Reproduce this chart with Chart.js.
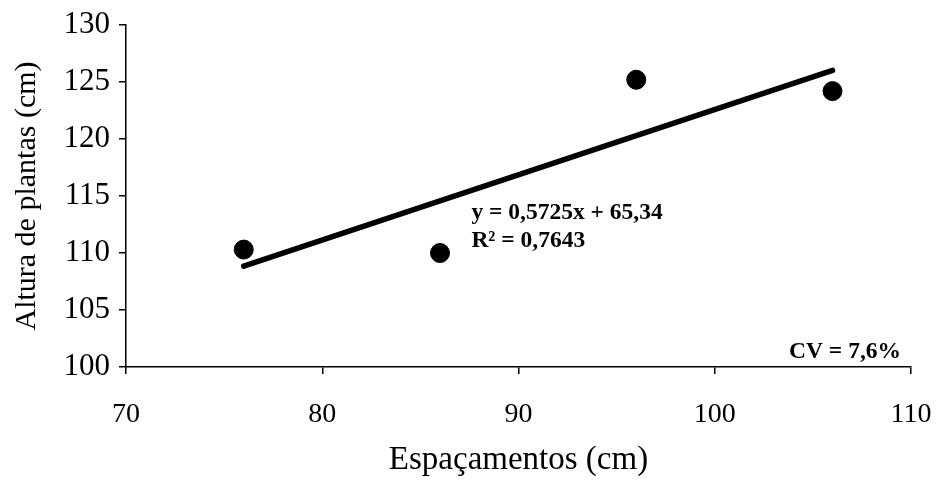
<!DOCTYPE html>
<html>
<head>
<meta charset="utf-8">
<script src="https://cdn.jsdelivr.net/npm/chart.js@4"></script>
<style>
  body { margin: 0; background: #fff; }
  #wrap { width: 944px; height: 496px; }
</style>
</head>
<body>
<div id="wrap"><canvas id="chart" width="944" height="496"></canvas></div>
<script>
// Spacing (cm) and plant height (cm)
const spacing = [76, 86, 96, 106];
const height = [110.3, 110.0, 125.2, 124.2];

// Fitted line from the equation shown on the chart
const slope = 0.5725;
const intercept = 65.34;
const fitX = [spacing[0], spacing[spacing.length - 1]];

const xTicks = [70, 80, 90, 100, 110];
const yTicks = [100, 105, 110, 115, 120, 125, 130];

const equationText = 'y = 0,5725x + 65,34';
const r2Text = 'R² = 0,7643';
const cvText = 'CV = 7,6%';

const serif = "'Liberation Serif', 'Times New Roman', serif";

// Text labels drawn over the plot
const labelsPlugin = {
    id: 'labels',
    afterDatasetsDraw(chart) {
        const ctx = chart.ctx;
        const xs = chart.scales.x;
        const ys = chart.scales.y;
        const area = chart.chartArea;
        ctx.save();
        ctx.fillStyle = '#000';
        ctx.font = 'bold 23.5px ' + serif;
        ctx.textBaseline = 'middle';
        ctx.textAlign = 'left';
        const ex = xs.getPixelForValue(87.6);
        const ey = ys.getPixelForValue(113.5);
        ctx.fillText(equationText, ex, ey);
        ctx.fillText(r2Text, ex, ey + 28);
        ctx.textAlign = 'right';
        ctx.fillText(cvText, area.right - 10, area.bottom - 15);
        ctx.restore();
    }
};

const ctx = document.getElementById('chart').getContext('2d');

new Chart(ctx, {
    type: 'scatter',
    data: {
        datasets: [
            {
                label: 'Ajuste',
                data: fitX.map(x => ({ x: x, y: slope * x + intercept })),
                showLine: true,
                borderColor: '#000',
                borderWidth: 5.5,
                borderCapStyle: 'round',
                pointRadius: 0,
                order: 2
            },
            {
                label: 'Altura',
                data: spacing.map((x, i) => ({ x: x, y: height[i] })),
                backgroundColor: '#000',
                borderColor: '#000',
                pointRadius: 9.5,
                pointHoverRadius: 9.5,
                order: 1
            }
        ]
    },
    options: {
        responsive: false,
        animation: false,
        layout: { padding: { top: 25, right: 33, left: 0, bottom: 0 } },
        plugins: {
            legend: { display: false },
            tooltip: { enabled: false }
        },
        scales: {
            x: {
                type: 'linear',
                min: 70,
                max: 110,
                afterBuildTicks: s => { s.ticks = xTicks.map(v => ({ value: v })); },
                afterFit: s => {
                    s.height = 129;
                    s.paddingLeft = 0;
                    s.paddingRight = 0;
                },
                grid: { drawOnChartArea: false, drawTicks: true, tickLength: 7, color: '#000', lineWidth: 1.5 },
                border: { color: '#000', width: 1.5 },
                ticks: {
                    color: '#000',
                    padding: 24,
                    maxRotation: 0,
                    font: { family: serif, size: 28 }
                },
                title: {
                    display: true,
                    text: 'Espaçamentos (cm)',
                    color: '#000',
                    font: { family: serif, size: 33 },
                    padding: { top: 0, bottom: 16 }
                }
            },
            y: {
                type: 'linear',
                min: 100,
                max: 130,
                afterBuildTicks: s => { s.ticks = yTicks.map(v => ({ value: v })); },
                afterFit: s => {
                    s.width = 126;
                    s.paddingTop = 0;
                    s.paddingBottom = 0;
                },
                grid: { drawOnChartArea: false, drawTicks: true, tickLength: 7, color: '#000', lineWidth: 1.5 },
                border: { color: '#000', width: 1.5 },
                ticks: {
                    color: '#000',
                    padding: 9,
                    font: { family: serif, size: 31 }
                },
                title: {
                    display: true,
                    text: 'Altura de plantas (cm)',
                    color: '#000',
                    font: { family: serif, size: 30 },
                    padding: { top: 9, bottom: 0 }
                }
            }
        }
    },
    plugins: [labelsPlugin]
});
</script>
</body>
</html>
